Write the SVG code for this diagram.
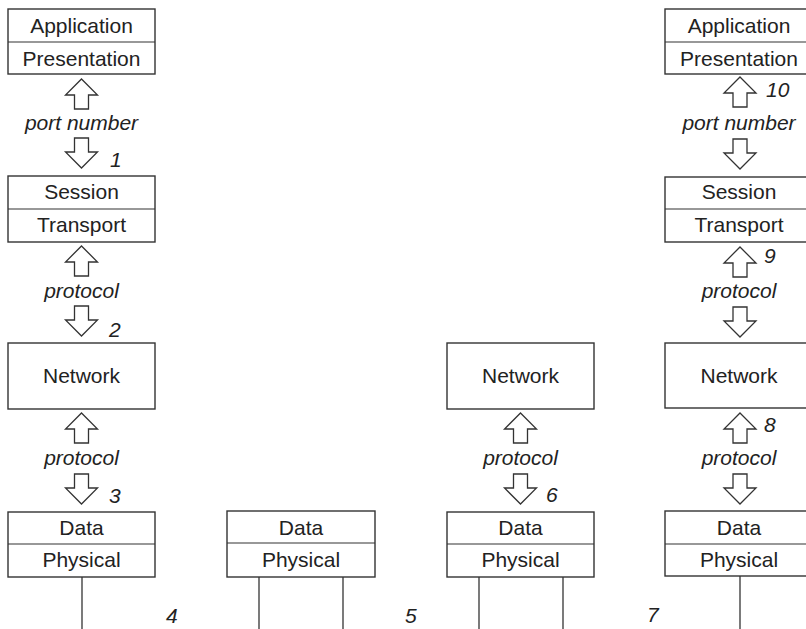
<svg xmlns="http://www.w3.org/2000/svg" xmlns:xlink="http://www.w3.org/1999/xlink" width="806" height="629" viewBox="0 0 806 629">
  <style>
    .box { fill: #fff; stroke: #333; stroke-width: 1.4; }
    .div { stroke: #333; stroke-width: 1.2; }
    .wire { stroke: #333; stroke-width: 1.3; fill: none; }
    .arrow { fill: #fff; stroke: #333; stroke-width: 1.3; stroke-linejoin: miter; }
    .lbl { font-family: "Liberation Sans", Arial, Helvetica, sans-serif; font-size: 21px; fill: #222; text-anchor: middle; }
    .it { font-family: "Liberation Sans", Arial, Helvetica, sans-serif; font-size: 21px; font-style: italic; fill: #222; text-anchor: middle; }
    .num { font-family: "Liberation Sans", Arial, Helvetica, sans-serif; font-size: 21px; font-style: italic; fill: #222; }
  </style>
  <defs>
    <!-- hollow block arrows: up has its tip at 0, down has its shaft top at 0 -->
    <path id="up" class="arrow" d="M0,0 L16,16 L7,16 L7,30 L-7,30 L-7,16 L-16,16 Z"/>
    <path id="down" class="arrow" d="M-7,0 L7,0 L7,14 L16,14 L0,30 L-16,14 L-7,14 Z"/>
  </defs>

  <!-- host A (left stack) -->
  <g id="hostA-app">
    <rect class="box" x="8" y="9" width="147" height="65"/>
    <line class="div" x1="8" y1="42" x2="155" y2="42"/>
    <text class="lbl" x="81.5" y="33">Application</text>
    <text class="lbl" x="81.5" y="66">Presentation</text>
  </g>
  <g id="hostA-session">
    <rect class="box" x="8" y="176" width="147" height="66"/>
    <line class="div" x1="8" y1="209" x2="155" y2="209"/>
    <text class="lbl" x="81.5" y="199">Session</text>
    <text class="lbl" x="81.5" y="232">Transport</text>
  </g>
  <g id="hostA-network">
    <rect class="box" x="8" y="343" width="147" height="66"/>
    <text class="lbl" x="81.5" y="383">Network</text>
  </g>
  <g id="hostA-link">
    <rect class="box" x="8" y="512" width="147" height="65"/>
    <line class="div" x1="8" y1="544" x2="155" y2="544"/>
    <text class="lbl" x="81.5" y="535">Data</text>
    <text class="lbl" x="81.5" y="567">Physical</text>
  </g>

  <!-- bridge / hub -->
  <g id="bridge-link">
    <rect class="box" x="227" y="511" width="148" height="66"/>
    <line class="div" x1="227" y1="543" x2="375" y2="543"/>
    <text class="lbl" x="301" y="535">Data</text>
    <text class="lbl" x="301" y="567">Physical</text>
  </g>

  <!-- router -->
  <g id="router-network">
    <rect class="box" x="447" y="343" width="147" height="66"/>
    <text class="lbl" x="520.5" y="383">Network</text>
  </g>
  <g id="router-link">
    <rect class="box" x="447" y="512" width="147" height="65"/>
    <line class="div" x1="447" y1="544" x2="594" y2="544"/>
    <text class="lbl" x="520.5" y="535">Data</text>
    <text class="lbl" x="520.5" y="567">Physical</text>
  </g>

  <!-- host B (right stack, runs past the edge) -->
  <g id="hostB-app">
    <rect class="box" x="665" y="9" width="150" height="65"/>
    <line class="div" x1="665" y1="42" x2="815" y2="42"/>
    <text class="lbl" x="739" y="33">Application</text>
    <text class="lbl" x="739" y="66">Presentation</text>
  </g>
  <g id="hostB-session">
    <rect class="box" x="665" y="177" width="150" height="65"/>
    <line class="div" x1="665" y1="209" x2="815" y2="209"/>
    <text class="lbl" x="739" y="199">Session</text>
    <text class="lbl" x="739" y="232">Transport</text>
  </g>
  <g id="hostB-network">
    <rect class="box" x="665" y="343" width="150" height="65"/>
    <text class="lbl" x="739" y="383">Network</text>
  </g>
  <g id="hostB-link">
    <rect class="box" x="665" y="511" width="150" height="65"/>
    <line class="div" x1="665" y1="544" x2="815" y2="544"/>
    <text class="lbl" x="739" y="535">Data</text>
    <text class="lbl" x="739" y="567">Physical</text>
  </g>

  <!-- connectors: layer arrows and physical wires -->
  <g id="connectors">
    <use xlink:href="#up" x="81.5" y="79"/>
    <use xlink:href="#down" x="81.5" y="138"/>
    <use xlink:href="#up" x="81.5" y="246"/>
    <use xlink:href="#down" x="81.5" y="306"/>
    <use xlink:href="#up" x="81.5" y="413"/>
    <use xlink:href="#down" x="81.5" y="474"/>

    <use xlink:href="#up" x="520.5" y="413"/>
    <use xlink:href="#down" x="520.5" y="474"/>

    <use xlink:href="#up" x="740" y="77"/>
    <use xlink:href="#down" x="740" y="139"/>
    <use xlink:href="#up" x="740" y="247"/>
    <use xlink:href="#down" x="740" y="307"/>
    <use xlink:href="#up" x="740" y="413"/>
    <use xlink:href="#down" x="740" y="474"/>

    <line class="wire" x1="82" y1="577" x2="82" y2="629"/>
    <line class="wire" x1="259" y1="577" x2="259" y2="629"/>
    <line class="wire" x1="343" y1="577" x2="343" y2="629"/>
    <line class="wire" x1="479" y1="577" x2="479" y2="629"/>
    <line class="wire" x1="563" y1="577" x2="563" y2="629"/>
    <line class="wire" x1="740" y1="576" x2="740" y2="629"/>
  </g>

  <!-- arrow captions -->
  <g id="captions">
    <text class="it" x="81.5" y="130">port number</text>
    <text class="it" x="81.5" y="298">protocol</text>
    <text class="it" x="81.5" y="465">protocol</text>
    <text class="it" x="520.5" y="465">protocol</text>
    <text class="it" x="739" y="130">port number</text>
    <text class="it" x="739" y="298">protocol</text>
    <text class="it" x="739" y="465">protocol</text>
  </g>

  <!-- step numbers -->
  <g id="steps">
    <text class="num" x="110" y="167">1</text>
    <text class="num" x="109" y="337">2</text>
    <text class="num" x="109" y="503">3</text>
    <text class="num" x="166" y="623">4</text>
    <text class="num" x="405" y="623">5</text>
    <text class="num" x="546" y="502">6</text>
    <text class="num" x="647" y="622">7</text>
    <text class="num" x="764" y="432">8</text>
    <text class="num" x="764" y="263">9</text>
    <text class="num" x="766" y="97">10</text>
  </g>
</svg>
